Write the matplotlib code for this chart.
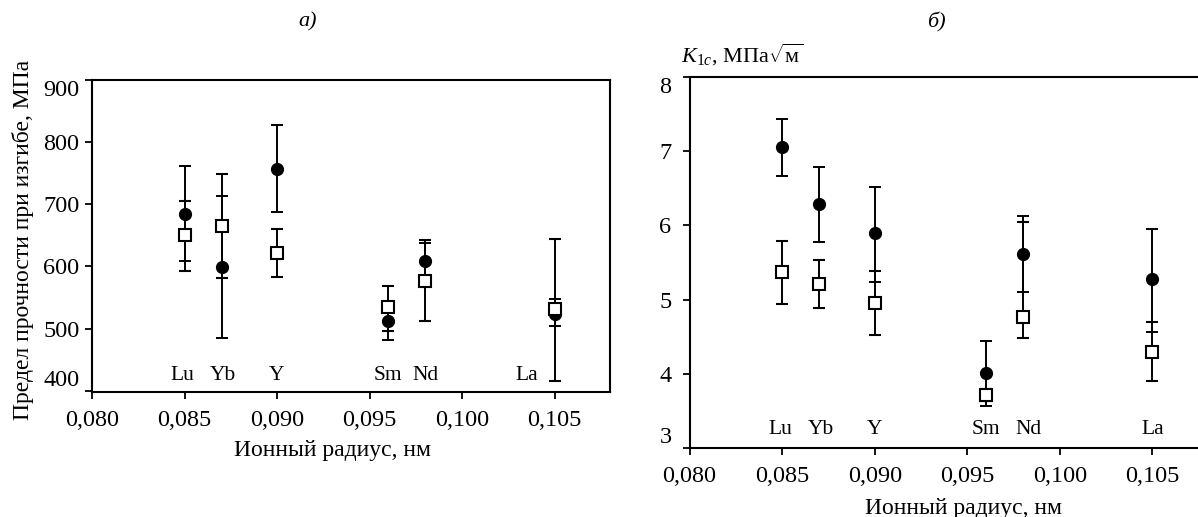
import numpy as np
import matplotlib
matplotlib.use("Agg")
import matplotlib.pyplot as plt

plt.rcParams['font.family'] = ['Liberation Serif', 'DejaVu Serif']
plt.rcParams['mathtext.fontset'] = 'custom'
plt.rcParams['mathtext.rm'] = 'Liberation Serif'
plt.rcParams['mathtext.it'] = 'Liberation Serif:italic'
plt.rcParams['mathtext.bf'] = 'Liberation Serif:bold'

# ionic radius, nm
radius = np.array([0.085, 0.087, 0.090, 0.096, 0.098, 0.105])
elements = ['Lu', 'Yb', 'Y', 'Sm', 'Nd', 'La']
label_x_a = [0.0849, 0.0871, 0.0900, 0.0960, 0.0980, 0.1035]
label_x_b = [0.0849, 0.0871, 0.0900, 0.0960, 0.0983, 0.1050]

# a) bending strength, MPa
strength_circ = np.array([684, 599, 757, 512, 608, 524])
strength_circ_hi = np.array([762, 713, 827, 542, 637, 547])
strength_circ_lo = np.array([608, 485, 688, 482, 579, 504])
strength_sq = np.array([650, 665, 621, 535, 577, 531])
strength_sq_hi = np.array([705, 749, 660, 569, 643, 644])
strength_sq_lo = np.array([592, 582, 583, 496, 512, 415])

# b) fracture toughness K1c, MPa*m^0.5
k1c_circ = np.array([7.06, 6.29, 5.89, 4.01, 5.62, 5.28])
k1c_circ_hi = np.array([7.43, 6.79, 6.51, 4.45, 6.13, 5.95])
k1c_circ_lo = np.array([6.66, 5.78, 5.24, 3.57, 5.10, 4.56])
k1c_sq = np.array([5.37, 5.21, 4.95, 3.72, 4.77, 4.30])
k1c_sq_hi = np.array([5.79, 5.54, 5.38, 3.80, 6.05, 4.70])
k1c_sq_lo = np.array([4.94, 4.89, 4.53, 3.64, 4.48, 3.91])

xticks = [0.080, 0.085, 0.090, 0.095, 0.100, 0.105]
xtick_labels = ['0,080', '0,085', '0,090', '0,095', '0,100', '0,105']

FS_TICK = 17.5
FS_LAB = 17
FS_EL = 15.5


def draw_panel(ax, yc, yc_hi, yc_lo, ys, ys_hi, ys_lo):
    eb = dict(ecolor='black', elinewidth=1.4, capsize=4.5, capthick=1.4, linestyle='none')
    ax.errorbar(radius, yc, yerr=[yc - yc_lo, yc_hi - yc], fmt='o', color='black',
                markersize=8.5, zorder=3, **eb)
    ax.errorbar(radius, ys, yerr=[ys - ys_lo, ys_hi - ys], fmt='s', markerfacecolor='white',
                markeredgecolor='black', markeredgewidth=1.5, markersize=8, zorder=4, **eb)
    ax.set_xlim(0.080, 0.108)
    ax.set_xticks(xticks)
    ax.set_xticklabels(xtick_labels)
    for s in ax.spines.values():
        s.set_linewidth(1.5)
    ax.tick_params(direction='out', length=5, width=1.3, labelsize=FS_TICK)
    ax.tick_params(axis='x', pad=8)
    ax.tick_params(axis='y', pad=4)


fig = plt.figure(figsize=(11.98, 5.17), dpi=100)

# panel a
ax1 = fig.add_axes([0.0768, 0.2418, 0.4324, 0.6035])
draw_panel(ax1, strength_circ, strength_circ_hi, strength_circ_lo,
           strength_sq, strength_sq_hi, strength_sq_lo)
ax1.set_yticks([400, 500, 600, 700, 800, 900])
ax1.set_ylim(398, 900)
ylabs = ax1.get_yticklabels()
ylabs[0].set_va('bottom')
ylabs[-1].set_va('top')
for xl, el in zip(label_x_a, elements):
    ax1.text(xl, 424, el, ha='center', va='center', fontsize=FS_EL)
ax1.set_xlabel('Ионный радиус, нм', fontsize=FS_LAB)
ax1.xaxis.set_label_coords(0.465, -0.186)
ax1.xaxis.label.set_va('center')
ax1.set_ylabel('Предел прочности при изгибе, МПа', fontsize=FS_LAB)
ax1.yaxis.set_label_coords(-0.133, 0.487)
ax1.yaxis.label.set_va('center')

# panel b
ax2 = fig.add_axes([0.5756, 0.1329, 0.4327, 0.7188])
draw_panel(ax2, k1c_circ, k1c_circ_hi, k1c_circ_lo, k1c_sq, k1c_sq_hi, k1c_sq_lo)
ax2.set_yticks([3, 4, 5, 6, 7, 8])
ax2.set_ylim(3, 8)
ylabs = ax2.get_yticklabels()
ylabs[0].set_va('bottom')
ylabs[-1].set_va('top')
ax2.tick_params(axis='y', pad=8)
for xl, el in zip(label_x_b, elements):
    ax2.text(xl, 3.25, el, ha='center', va='center', fontsize=FS_EL)
ax2.set_xlabel('Ионный радиус, нм', fontsize=FS_LAB)
ax2.xaxis.set_label_coords(0.529, -0.161)
ax2.xaxis.label.set_va('center')

fig.text(0.5684, 0.8936, r'$K_{1c}$, МПа$\sqrt{\mathrm{м}}$', fontsize=16,
         ha='left', va='center')

fig.text(308 / 1198, 1 - 22 / 517, 'а)', fontsize=16, style='italic', ha='center', va='center')
fig.text(936 / 1198, 1 - 22 / 517, 'б)', fontsize=16, style='italic', ha='center', va='center')

fig.savefig('out.png', dpi=100)
